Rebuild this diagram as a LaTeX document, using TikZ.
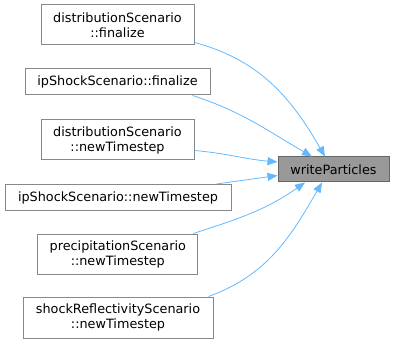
\documentclass[tikz,border=0pt]{standalone}
\usepackage{fontspec}
\setmainfont{DejaVu Sans}
\usepackage{xcolor}
\definecolor{EdgeBlue}{HTML}{63B8FF}
\definecolor{BoxBorder}{HTML}{888888}
\definecolor{FocusFill}{HTML}{999999}
\definecolor{FocusBorder}{HTML}{666666}
\usepackage{tikz}
\usetikzlibrary{arrows.meta}

\begin{document}
\begin{tikzpicture}[
  x=1pt, y=1pt,
  fnbox/.style={rectangle, draw=BoxBorder, fill=white, line width=1pt,
                inner sep=0pt, align=center, text=black,
                font=\fontsize{12.8}{15}\selectfont},
  focusbox/.style={fnbox, draw=FocusBorder, fill=FocusFill},
  callarr/.style={-{Triangle[length=10pt, width=8pt]}, line width=0.8pt, color=EdgeBlue},
]
  \useasboundingbox (0,0) rectangle (395,-344);

  % Callers
  \node[fnbox, minimum width=153, minimum height=40] (distfin) at (117.5,-25) {distributionScenario\\::finalize};
  \node[fnbox, minimum width=185, minimum height=26] (ipfin) at (117.5,-82) {ipShockScenario::finalize};
  \node[fnbox, minimum width=153, minimum height=40] (distnew) at (117.5,-140) {distributionScenario\\::newTimestep};
  \node[fnbox, minimum width=226, minimum height=26] (ipnew) at (118,-197.5) {ipShockScenario::newTimestep};
  \node[fnbox, minimum width=160, minimum height=40] (precnew) at (117.8,-254) {precipitationScenario\\::newTimestep};
  \node[fnbox, minimum width=190, minimum height=41] (shocknew) at (118,-317.5) {shockReflectivityScenario\\::newTimestep};

  % Callee
  \node[focusbox, minimum width=111, minimum height=25] (write) at (333.5,-169.5) {writeParticles};

  % Call edges
  \draw[callarr] ([yshift=3pt]distfin.south east) to[out=-15, in=120] ([xshift=-8.5pt]write.north);
  \draw[callarr] ([xshift=-18pt]ipfin.south east) to[out=-18, in=150] ([xshift=-21.5pt]write.north);
  \draw[callarr] ([yshift=10pt]distnew.south east) to[out=-5, in=175] ([yshift=7.5pt]write.west);
  \draw[callarr] ([xshift=-15pt]ipnew.north east) to[out=8, in=188] ([yshift=-6pt]write.west);
  \draw[callarr] ([xshift=-5pt]precnew.north east) to[out=18, in=215] ([xshift=-28.5pt]write.south);
  \draw[callarr] ([xshift=-5pt]shocknew.north east) to[out=20, in=240] ([xshift=-11.5pt]write.south);
\end{tikzpicture}
\end{document}
